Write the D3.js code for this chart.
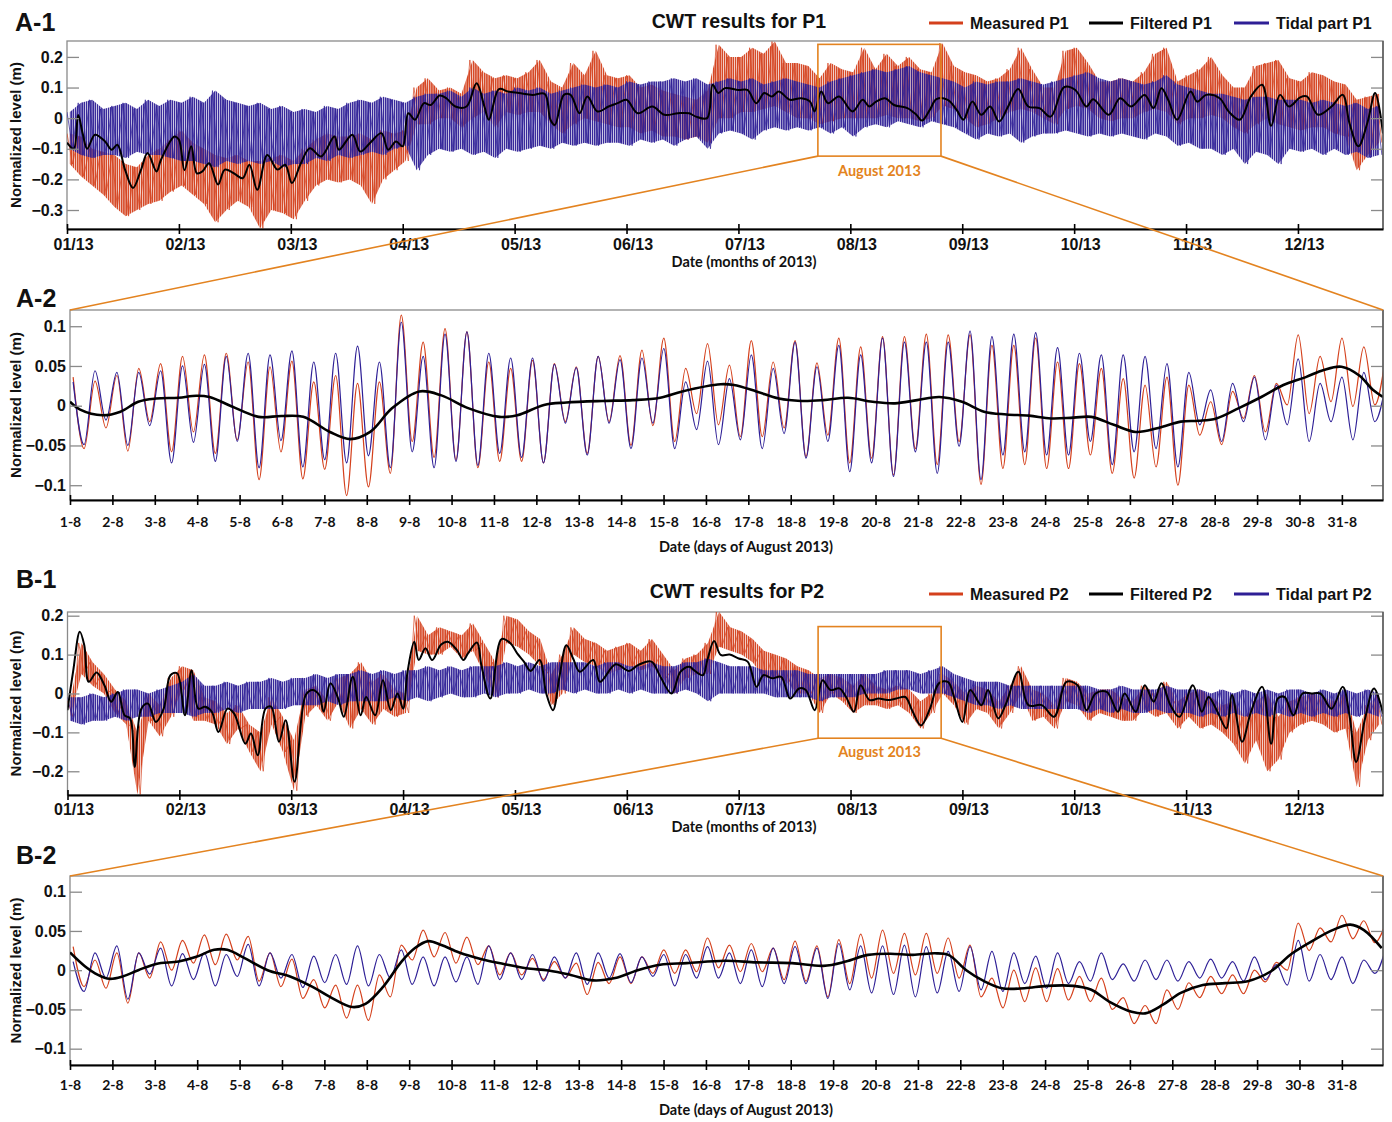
<!DOCTYPE html>
<html><head><meta charset="utf-8">
<script src="https://cdn.jsdelivr.net/npm/d3@7/dist/d3.min.js"></script>
<style>body{margin:0;background:#fff}svg{display:block}</style>
</head><body>
<svg id="c" width="1392" height="1122"></svg>
<script>
// ---------------- DATA ----------------
const monthLabels = ["01/13","02/13","03/13","04/13","05/13","06/13","07/13","08/13","09/13","10/13","11/13","12/13"];
const dayLabels = ["1-8","2-8","3-8","4-8","5-8","6-8","7-8","8-8","9-8","10-8","11-8","12-8","13-8","14-8","15-8","16-8","17-8","18-8","19-8","20-8","21-8","22-8","23-8","24-8","25-8","26-8","27-8","28-8","29-8","30-8","31-8"];
const seriesNamesP1 = ["Measured P1","Filtered P1","Tidal part P1"];
const seriesNamesP2 = ["Measured P2","Filtered P2","Tidal part P2"];
const yTicksYear = [0.2,0.1,0,-0.1,-0.2,-0.3];
const yTicksYearP2 = [0.2,0.1,0,-0.1,-0.2];
const yTicksAug = [0.1,0.05,0,-0.05,-0.1];

// yearly records: high / low extremes every 0.1 month (months since 1 Jan 2013)
const yearStepMonths = 0.1;
const p1MeasuredHigh = [
 -0.05,-0.06,-0.10,-0.11,-0.12,-0.15,-0.16,-0.12,-0.10,-0.07,
 -0.04,-0.08,-0.10,-0.12,-0.13,-0.12,-0.14,-0.14,-0.13,-0.12,
 -0.14,-0.10,-0.07,-0.05,-0.06,-0.06,-0.05,-0.07,-0.04,-0.05,
 -0.04,0.10,0.13,0.09,0.10,0.08,0.19,0.15,0.13,0.14,
 0.13,0.15,0.19,0.12,0.10,0.18,0.14,0.22,0.14,0.13,
 0.14,0.10,0.11,0.09,0.08,0.07,0.06,0.09,0.24,0.20,
 0.20,0.23,0.21,0.25,0.18,0.18,0.17,0.13,0.18,0.16,
 0.15,0.23,0.16,0.21,0.17,0.20,0.16,0.15,0.245,0.17,
 0.15,0.14,0.12,0.13,0.16,0.23,0.16,0.10,0.10,0.22,
 0.23,0.18,0.12,0.12,0.13,0.12,0.15,0.21,0.23,0.12,
 0.14,0.16,0.20,0.14,0.10,0.10,0.17,0.18,0.19,0.13,
 0.12,0.15,0.14,0.12,0.11,0.06,0.07,0.08];
const p1MeasuredLow = [
 -0.15,-0.19,-0.22,-0.25,-0.29,-0.32,-0.30,-0.28,-0.27,-0.24,
 -0.22,-0.25,-0.28,-0.34,-0.30,-0.27,-0.29,-0.36,-0.30,-0.31,
 -0.33,-0.27,-0.22,-0.20,-0.21,-0.20,-0.22,-0.28,-0.20,-0.17,
 -0.14,-0.02,-0.02,0.00,0.00,-0.03,0.00,0.02,-0.03,0.02,
 0.01,0.02,0.02,-0.02,-0.05,-0.02,0.00,-0.01,-0.02,-0.03,
 -0.03,-0.05,-0.04,-0.06,-0.06,-0.07,-0.06,-0.08,0.00,0.00,
 0.02,0.02,0.03,0.04,0.02,0.00,0.00,-0.02,-0.01,0.00,
 0.00,0.00,0.00,0.01,0.00,0.00,-0.01,0.00,0.04,0.03,
 0.00,-0.03,-0.02,0.00,0.02,0.03,0.02,0.00,-0.02,0.03,
 0.04,0.03,0.00,-0.01,0.00,0.00,0.02,0.03,0.02,-0.02,
 0.00,0.00,0.01,0.00,-0.03,-0.05,-0.02,0.00,-0.02,-0.03,
 -0.04,-0.03,-0.03,-0.05,-0.06,-0.17,-0.12,-0.08];
const p1TidalHigh = [
 0.02,0.05,0.06,0.03,0.04,0.05,0.03,0.06,0.04,0.06,
 0.05,0.07,0.05,0.09,0.06,0.05,0.04,0.05,0.03,0.04,
 0.02,0.03,0.02,0.04,0.03,0.05,0.06,0.05,0.07,0.06,
 0.05,0.07,0.08,0.08,0.09,0.07,0.10,0.08,0.09,0.08,
 0.10,0.09,0.10,0.08,0.09,0.10,0.11,0.10,0.11,0.10,
 0.12,0.11,0.12,0.12,0.13,0.12,0.13,0.11,0.12,0.13,
 0.12,0.13,0.11,0.12,0.13,0.12,0.11,0.10,0.12,0.13,
 0.14,0.15,0.16,0.15,0.16,0.17,0.15,0.14,0.13,0.12,
 0.10,0.12,0.11,0.12,0.12,0.13,0.12,0.11,0.12,0.13,
 0.14,0.15,0.13,0.12,0.13,0.12,0.11,0.12,0.14,0.11,
 0.10,0.09,0.08,0.08,0.07,0.06,0.07,0.07,0.06,0.06,
 0.06,0.05,0.06,0.05,0.04,0.05,0.03,0.04];
const p1TidalLow = [
 -0.10,-0.12,-0.13,-0.12,-0.12,-0.13,-0.11,-0.12,-0.12,-0.13,
 -0.14,-0.14,-0.15,-0.16,-0.14,-0.15,-0.14,-0.15,-0.14,-0.16,
 -0.15,-0.15,-0.13,-0.14,-0.12,-0.13,-0.12,-0.11,-0.12,-0.10,
 -0.09,-0.17,-0.12,-0.10,-0.11,-0.10,-0.12,-0.11,-0.13,-0.10,
 -0.11,-0.10,-0.09,-0.10,-0.08,-0.09,-0.08,-0.09,-0.08,-0.08,
 -0.09,-0.07,-0.08,-0.07,-0.09,-0.07,-0.06,-0.10,-0.05,-0.04,
 -0.05,-0.07,-0.04,-0.03,-0.04,-0.03,-0.04,-0.03,-0.05,-0.03,
 -0.06,-0.03,-0.02,-0.03,-0.01,-0.02,-0.03,-0.01,-0.02,-0.03,
 -0.05,-0.07,-0.05,-0.06,-0.05,-0.08,-0.06,-0.05,-0.05,-0.04,
 -0.05,-0.06,-0.05,-0.06,-0.05,-0.06,-0.07,-0.05,-0.06,-0.09,
 -0.08,-0.10,-0.10,-0.12,-0.10,-0.15,-0.11,-0.12,-0.15,-0.10,
 -0.11,-0.10,-0.12,-0.10,-0.12,-0.11,-0.13,-0.12];
const p1Filtered = [[0,-0.08],[0.06,-0.10],[0.1,0.01],[0.14,-0.05],[0.18,-0.10],[0.25,-0.054],[0.34,-0.076],[0.4,-0.103],[0.45,-0.087],[0.52,-0.17],[0.59,-0.228],[0.66,-0.17],[0.72,-0.114],[0.8,-0.174],[0.84,-0.136],[0.96,-0.06],[1.0,-0.07],[1.05,-0.17],[1.11,-0.092],[1.16,-0.18],[1.21,-0.174],[1.27,-0.147],[1.35,-0.217],[1.41,-0.168],[1.49,-0.18],[1.57,-0.196],[1.63,-0.152],[1.7,-0.234],[1.79,-0.12],[1.88,-0.168],[1.95,-0.152],[2.01,-0.212],[2.09,-0.147],[2.17,-0.098],[2.27,-0.125],[2.39,-0.06],[2.43,-0.103],[2.55,-0.054],[2.62,-0.109],[2.71,-0.08],[2.81,-0.049],[2.87,-0.103],[2.94,-0.076],[3.0,-0.092],[3.05,0.016],[3.11,-0.005],[3.19,0.049],[3.25,0.043],[3.33,0.074],[3.39,0.065],[3.47,0.038],[3.57,0.038],[3.66,0.114],[3.73,0.038],[3.77,-0.005],[3.86,0.095],[3.94,0.087],[4.04,0.082],[4.16,0.076],[4.27,0.079],[4.32,-0.005],[4.36,-0.022],[4.44,0.076],[4.5,0.076],[4.58,0.016],[4.65,0.071],[4.74,0.022],[4.84,0.038],[4.92,0.049],[5.0,0.06],[5.1,0.016],[5.23,0.038],[5.34,0.011],[5.46,0.016],[5.56,0.016],[5.62,0.005],[5.72,0.0],[5.77,0.109],[5.82,0.082],[5.88,0.098],[6.0,0.092],[6.08,0.092],[6.16,0.049],[6.23,0.082],[6.3,0.071],[6.36,0.087],[6.46,0.06],[6.56,0.065],[6.64,0.054],[6.68,0.022],[6.74,0.087],[6.8,0.049],[6.9,0.071],[7.02,0.022],[7.11,0.06],[7.17,0.038],[7.23,0.054],[7.31,0.065],[7.39,0.043],[7.51,0.033],[7.59,0.011],[7.64,-0.008],[7.71,0.027],[7.77,0.062],[7.87,0.06],[7.95,0.027],[8.01,-0.005],[8.09,0.054],[8.17,0.011],[8.25,0.038],[8.33,-0.011],[8.41,0.038],[8.5,0.095],[8.59,0.038],[8.69,0.033],[8.79,0.005],[8.91,0.101],[9.01,0.092],[9.11,0.038],[9.17,0.062],[9.31,0.011],[9.41,0.065],[9.51,0.038],[9.63,0.076],[9.71,0.033],[9.78,0.098],[9.84,0.06],[9.92,-0.005],[10.04,0.087],[10.1,0.054],[10.18,0.076],[10.3,0.065],[10.38,0.022],[10.48,-0.005],[10.58,0.071],[10.68,0.109],[10.76,-0.025],[10.84,0.076],[10.92,0.038],[11.02,0.068],[11.08,0.071],[11.18,0.011],[11.3,0.038],[11.4,0.076],[11.46,-0.016],[11.54,-0.092],[11.62,-0.016],[11.69,0.082],[11.76,-0.05]];

const p2MeasuredHigh = [
 -0.02,0.13,0.08,0.05,0.01,-0.02,-0.10,0.00,-0.03,0.04,
 0.07,0.06,-0.01,-0.02,-0.05,-0.03,-0.08,-0.10,-0.01,-0.06,
 -0.12,0.01,0.02,-0.02,0.04,0.05,0.08,0.03,0.05,0.01,
 0.00,0.20,0.15,0.17,0.16,0.15,0.18,0.13,0.08,0.20,
 0.19,0.16,0.14,0.05,0.10,0.17,0.14,0.13,0.11,0.12,
 0.13,0.11,0.14,0.10,0.06,0.09,0.10,0.13,0.21,0.17,
 0.16,0.14,0.11,0.10,0.09,0.07,0.06,0.04,0.05,0.04,
 0.02,0.05,0.02,0.01,0.02,0.01,-0.02,0.00,0.05,0.03,
 0.00,0.02,0.01,-0.02,0.02,0.07,0.01,0.00,-0.03,0.04,
 0.03,0.00,0.01,0.01,-0.01,-0.02,0.02,0.00,0.03,-0.02,
 0.00,0.01,-0.01,-0.03,-0.02,-0.06,-0.02,0.00,-0.06,-0.02,
 -0.01,0.00,-0.01,-0.02,0.00,-0.10,-0.03,0.00];
const p2MeasuredLow = [
 -0.06,0.05,0.02,0.00,-0.05,-0.08,-0.26,-0.07,-0.11,-0.06,
 0.01,-0.07,-0.07,-0.08,-0.13,-0.09,-0.15,-0.20,-0.08,-0.15,
 -0.25,-0.06,-0.03,-0.07,-0.02,-0.09,-0.04,-0.08,-0.04,-0.06,
 -0.05,0.11,0.10,0.10,0.12,0.09,0.11,0.05,-0.01,0.13,
 0.12,0.10,0.07,-0.03,0.00,0.10,0.08,0.07,0.05,0.06,
 0.07,0.06,0.07,0.04,0.00,0.04,0.05,0.05,0.12,0.11,
 0.10,0.08,0.04,0.04,0.03,0.00,0.00,-0.05,0.00,-0.02,
 -0.05,-0.03,-0.03,-0.04,-0.03,-0.05,-0.09,-0.05,0.00,-0.03,
 -0.08,-0.04,-0.05,-0.09,-0.05,0.00,-0.07,-0.06,-0.09,-0.02,
 -0.03,-0.07,-0.05,-0.06,-0.07,-0.07,-0.04,-0.06,-0.05,-0.09,
 -0.06,-0.09,-0.08,-0.10,-0.13,-0.18,-0.12,-0.20,-0.17,-0.10,
 -0.08,-0.07,-0.08,-0.10,-0.09,-0.24,-0.12,-0.08];
const p2TidalHigh = [
 -0.01,-0.01,0.00,-0.01,0.00,0.01,0.01,0.00,0.01,0.02,
 0.03,0.05,0.02,0.02,0.03,0.02,0.03,0.03,0.04,0.03,
 0.04,0.04,0.05,0.04,0.05,0.05,0.06,0.05,0.06,0.05,
 0.06,0.06,0.07,0.06,0.07,0.06,0.07,0.07,0.07,0.08,
 0.07,0.08,0.07,0.08,0.08,0.08,0.08,0.07,0.08,0.08,
 0.07,0.07,0.08,0.07,0.07,0.08,0.08,0.09,0.08,0.07,
 0.07,0.07,0.06,0.06,0.06,0.06,0.05,0.05,0.05,0.05,
 0.05,0.05,0.05,0.06,0.06,0.06,0.05,0.06,0.07,0.05,
 0.04,0.03,0.03,0.03,0.02,0.02,0.02,0.02,0.02,0.02,
 0.02,0.02,0.01,0.01,0.02,0.01,0.01,0.01,0.02,0.01,
 0.01,0.01,0.00,0.01,0.00,0.01,0.00,0.01,0.00,0.01,
 0.01,0.00,0.01,0.00,0.01,0.00,0.01,0.00];
const p2TidalLow = [
 -0.07,-0.08,-0.07,-0.07,-0.06,-0.07,-0.06,-0.06,-0.05,-0.05,
 -0.05,-0.06,-0.05,-0.05,-0.04,-0.05,-0.04,-0.04,-0.04,-0.04,
 -0.03,-0.03,-0.03,-0.02,-0.03,-0.02,-0.02,-0.02,-0.02,-0.01,
 -0.02,-0.01,-0.02,-0.01,0.00,-0.01,-0.01,0.00,-0.01,0.00,
 0.00,0.01,0.00,0.00,0.01,0.00,0.01,0.00,0.00,0.01,
 0.00,0.01,0.00,0.00,0.00,0.01,0.00,-0.02,0.00,0.00,
 0.00,0.00,0.00,-0.01,-0.01,-0.01,-0.01,-0.02,-0.01,-0.01,
 -0.01,0.00,0.00,0.00,0.01,0.01,0.00,0.00,0.00,-0.01,
 -0.02,-0.03,-0.03,-0.04,-0.03,-0.04,-0.04,-0.04,-0.04,-0.04,
 -0.04,-0.05,-0.04,-0.05,-0.04,-0.05,-0.05,-0.04,-0.05,-0.05,
 -0.05,-0.06,-0.05,-0.06,-0.05,-0.06,-0.05,-0.06,-0.05,-0.06,
 -0.05,-0.06,-0.05,-0.06,-0.05,-0.06,-0.05,-0.06];
const p2Filtered = [[0,-0.043],[0.05,0.056],[0.11,0.159],[0.15,0.124],[0.19,0.03],[0.26,0.054],[0.33,0.021],[0.39,-0.021],[0.45,0.004],[0.51,-0.056],[0.56,-0.064],[0.6,-0.189],[0.66,-0.039],[0.72,-0.026],[0.79,-0.073],[0.86,-0.039],[0.92,0.047],[0.98,0.052],[1.05,-0.056],[1.11,0.06],[1.17,-0.039],[1.23,-0.034],[1.29,-0.047],[1.35,-0.099],[1.43,-0.039],[1.49,-0.052],[1.59,-0.129],[1.64,-0.103],[1.7,-0.159],[1.77,-0.039],[1.82,-0.034],[1.89,-0.124],[1.95,-0.069],[2.03,-0.227],[2.13,-0.004],[2.19,0.009],[2.25,-0.004],[2.29,-0.047],[2.35,0.026],[2.42,-0.013],[2.47,-0.06],[2.55,0.043],[2.62,-0.056],[2.67,-0.009],[2.75,-0.056],[2.82,0.034],[2.89,-0.043],[2.95,0.0],[3.0,-0.039],[3.04,0.056],[3.1,0.133],[3.14,0.086],[3.2,0.116],[3.26,0.086],[3.34,0.126],[3.4,0.133],[3.48,0.112],[3.54,0.086],[3.58,0.103],[3.66,0.131],[3.7,0.073],[3.78,-0.013],[3.88,0.14],[3.96,0.129],[4.02,0.103],[4.08,0.082],[4.14,0.058],[4.22,0.086],[4.28,0.0],[4.34,-0.043],[4.4,0.047],[4.46,0.124],[4.52,0.09],[4.58,0.056],[4.7,0.086],[4.76,0.03],[4.9,0.075],[5.02,0.058],[5.1,0.073],[5.22,0.082],[5.3,0.043],[5.4,0.0],[5.48,0.056],[5.56,0.069],[5.6,0.06],[5.68,0.047],[5.72,0.086],[5.78,0.135],[5.84,0.099],[5.92,0.1],[6.0,0.09],[6.08,0.082],[6.16,0.017],[6.22,0.047],[6.3,0.039],[6.38,0.043],[6.46,-0.013],[6.54,0.013],[6.6,0.009],[6.68,-0.043],[6.75,0.034],[6.82,0.009],[6.9,0.013],[6.96,-0.009],[7.03,-0.047],[7.09,0.021],[7.17,-0.017],[7.25,-0.013],[7.33,-0.017],[7.41,-0.013],[7.49,-0.009],[7.55,-0.043],[7.63,-0.082],[7.71,-0.039],[7.79,0.026],[7.87,0.03],[7.93,-0.013],[8.0,-0.073],[8.07,0.009],[8.17,-0.03],[8.23,0.009],[8.32,-0.064],[8.39,-0.026],[8.5,0.056],[8.59,-0.03],[8.71,-0.03],[8.82,-0.06],[8.93,0.03],[9.03,0.021],[9.11,-0.043],[9.19,0.0],[9.29,0.004],[9.39,-0.047],[9.45,0.0],[9.55,-0.047],[9.63,0.021],[9.71,-0.021],[9.78,0.026],[9.86,-0.03],[9.94,-0.06],[10.06,0.021],[10.14,-0.047],[10.2,-0.009],[10.28,-0.047],[10.36,-0.09],[10.41,-0.004],[10.5,-0.124],[10.58,-0.047],[10.68,0.017],[10.76,-0.129],[10.82,-0.013],[10.88,-0.009],[10.96,-0.056],[11.04,0.0],[11.12,0.0],[11.2,0.0],[11.3,-0.039],[11.4,0.017],[11.46,-0.056],[11.52,-0.176],[11.6,-0.064],[11.68,0.013],[11.76,-0.052]];

// August records: alternating high/low water values, one every half tidal cycle (day of August)
const tideStartDay = 1.074;
const tideHalfPeriodDays = 0.258;
const p1AugMeasured = [
 0.036,-0.054,0.031,-0.028,0.038,-0.057,0.047,-0.020,0.053,-0.058,
 0.062,-0.033,0.064,-0.060,0.066,-0.043,0.055,-0.093,0.049,-0.058,
 0.056,-0.092,0.030,-0.080,0.038,-0.113,0.028,-0.102,0.030,-0.085,
 0.114,-0.045,0.080,-0.065,0.097,-0.068,0.093,-0.078,0.055,-0.070,
 0.047,-0.070,0.057,-0.072,0.053,-0.020,0.049,-0.060,0.062,-0.020,
 0.063,-0.050,0.070,-0.025,0.085,-0.045,0.047,-0.010,0.078,-0.024,
 0.051,-0.039,0.082,-0.039,0.055,-0.028,0.082,-0.064,0.054,-0.037,
 0.085,-0.072,0.074,-0.066,0.087,-0.087,0.087,-0.054,0.090,-0.074,
 0.089,-0.045,0.089,-0.099,0.076,-0.079,0.076,-0.074,0.085,-0.079,
 0.055,-0.079,0.053,-0.062,0.047,-0.085,0.034,-0.091,0.026,-0.077,
 0.036,-0.100,0.026,-0.037,0.005,-0.049,0.018,-0.016,0.038,-0.033,
 0.028,0.001,0.089,-0.010,0.062,0.005,0.085,-0.001,0.074,0.001,
 0.062];
const p1AugTidal = [
 0.030,-0.049,0.044,-0.018,0.042,-0.050,0.042,-0.025,0.044,-0.072,
 0.050,-0.046,0.052,-0.070,0.062,-0.045,0.066,-0.078,0.064,-0.044,
 0.069,-0.077,0.055,-0.068,0.066,-0.072,0.075,-0.063,0.055,-0.078,
 0.105,-0.058,0.062,-0.078,0.090,-0.070,0.093,-0.075,0.066,-0.060,
 0.060,-0.065,0.060,-0.072,0.052,-0.022,0.048,-0.062,0.062,-0.022,
 0.058,-0.054,0.060,-0.022,0.072,-0.054,0.030,-0.030,0.056,-0.049,
 0.034,-0.043,0.064,-0.054,0.047,-0.035,0.080,-0.066,0.049,-0.045,
 0.076,-0.083,0.064,-0.072,0.085,-0.089,0.080,-0.058,0.080,-0.085,
 0.080,-0.051,0.094,-0.093,0.087,-0.062,0.090,-0.058,0.092,-0.062,
 0.073,-0.062,0.066,-0.045,0.064,-0.074,0.064,-0.058,0.062,-0.054,
 0.053,-0.077,0.042,-0.024,0.020,-0.045,0.028,-0.020,0.036,-0.043,
 0.026,-0.024,0.059,-0.045,0.028,-0.020,0.036,-0.043,0.042,-0.020,
 0.026];
const p1AugFiltered = [[1.0,0.005],[1.24,-0.005],[1.77,-0.012],[2.19,-0.0075],[2.61,0.005],[3.03,0.009],[3.56,0.010],[3.98,0.0125],[4.29,0.011],[4.82,-0.001],[5.45,-0.014],[5.98,-0.013],[6.5,-0.014],[7.13,-0.033],[7.61,-0.042],[8.08,-0.033],[8.6,-0.003],[9.24,0.018],[9.76,0.013],[10.39,-0.003],[11.13,-0.014],[11.55,-0.012],[12.18,0.001],[12.71,0.004],[13.55,0.006],[14.28,0.007],[14.92,0.01],[15.44,0.018],[16.35,0.027],[16.66,0.026],[17.19,0.018],[17.72,0.009],[18.24,0.006],[18.77,0.007],[19.35,0.01],[19.93,0.005],[20.46,0.003],[20.98,0.007],[21.51,0.011],[22.04,0.005],[22.56,-0.0075],[23.09,-0.011],[23.62,-0.0125],[24.14,-0.016],[24.67,-0.015],[25.09,-0.014],[25.62,-0.024],[26.14,-0.033],[26.67,-0.028],[27.2,-0.02],[27.62,-0.019],[28.04,-0.016],[28.57,-0.003],[29.1,0.011],[29.62,0.026],[30.15,0.036],[30.57,0.045],[30.99,0.049],[31.41,0.038],[31.73,0.02],[31.97,0.011]];

const p2AugMeasured = [
 0.030,-0.021,0.013,-0.023,0.022,-0.042,0.022,-0.010,0.036,0.000,
 0.038,0.009,0.045,0.007,0.046,0.013,0.043,-0.014,0.022,-0.021,
 0.014,-0.036,-0.012,-0.048,-0.019,-0.061,-0.019,-0.064,-0.006,-0.034,
 0.032,0.013,0.051,0.017,0.048,0.009,0.042,0.007,0.031,-0.006,
 0.022,-0.006,0.015,-0.012,0.011,-0.010,0.009,-0.031,0.010,-0.017,
 0.017,-0.017,0.017,-0.004,0.026,-0.004,0.026,-0.002,0.041,0.003,
 0.032,-0.002,0.034,-0.002,0.028,-0.012,0.037,-0.014,0.031,-0.034,
 0.039,-0.017,0.046,-0.010,0.051,-0.004,0.047,-0.006,0.047,-0.004,
 0.041,-0.010,0.032,-0.034,-0.010,-0.048,0.000,-0.040,0.003,-0.040,
 0.002,-0.038,-0.008,-0.040,-0.010,-0.050,-0.035,-0.068,-0.045,-0.068,
 -0.025,-0.050,-0.016,-0.035,-0.008,-0.030,-0.006,-0.030,0.000,-0.015,
 0.010,0.000,0.060,0.025,0.054,0.036,0.070,0.040,0.063,0.035,
 0.060];
const p2AugTidal = [
 0.011,-0.027,0.022,-0.010,0.031,-0.037,0.022,-0.005,0.028,-0.020,
 0.021,-0.012,0.022,-0.020,0.020,-0.008,0.033,-0.020,0.022,-0.010,
 0.020,-0.022,0.018,-0.016,0.020,-0.018,0.031,-0.020,0.020,-0.010,
 0.026,-0.018,0.017,-0.020,0.017,-0.015,0.017,-0.018,0.031,-0.012,
 0.022,-0.012,0.020,-0.014,0.017,-0.010,0.022,-0.018,0.022,-0.010,
 0.021,-0.016,0.017,-0.008,0.020,-0.020,0.020,-0.010,0.030,-0.010,
 0.022,-0.017,0.026,-0.021,0.028,-0.017,0.030,-0.017,0.028,-0.036,
 0.034,-0.025,0.031,-0.029,0.031,-0.031,0.032,-0.034,0.030,-0.029,
 0.024,-0.027,0.030,-0.025,0.024,-0.027,0.022,-0.017,0.018,-0.023,
 0.022,-0.017,0.011,-0.014,0.022,-0.012,0.008,-0.014,0.013,-0.012,
 0.013,-0.014,0.011,-0.010,0.014,-0.010,0.011,-0.014,0.017,-0.012,
 0.007,-0.019,0.038,-0.014,0.020,-0.012,0.017,-0.017,0.013,-0.004,
 0.028];
const p2AugFiltered = [[1.0,0.0225],[1.35,0.005],[1.66,-0.006],[1.93,-0.011],[2.24,-0.008],[2.61,0.0],[3.03,0.008],[3.56,0.011],[3.98,0.017],[4.4,0.026],[4.71,0.026],[5.13,0.015],[5.66,0.0],[6.19,-0.008],[6.71,-0.021],[7.13,-0.034],[7.66,-0.047],[7.97,-0.043],[8.39,-0.021],[8.82,0.011],[9.13,0.028],[9.45,0.037],[9.76,0.032],[10.18,0.0225],[10.71,0.014],[11.23,0.008],[11.76,0.0025],[12.29,-0.0004],[12.81,-0.006],[13.34,-0.013],[13.86,-0.01],[14.39,0.0],[14.92,0.007],[15.55,0.009],[16.45,0.012],[17.19,0.01],[18.03,0.009],[18.77,0.0055],[19.3,0.011],[19.82,0.0195],[20.35,0.021],[20.88,0.0195],[21.4,0.0215],[21.72,0.0195],[22.14,0.0],[22.56,-0.014],[22.98,-0.023],[23.51,-0.023],[24.04,-0.02],[24.67,-0.02],[25.09,-0.025],[25.51,-0.04],[26.04,-0.053],[26.36,-0.055],[26.78,-0.044],[27.2,-0.029],[27.72,-0.019],[28.25,-0.0165],[28.78,-0.014],[29.31,-0.002],[29.83,0.0215],[30.36,0.039],[30.78,0.051],[31.2,0.058],[31.52,0.051],[31.94,0.028]];

// zoom window (months) and its level extent in each yearly panel
const augustBoxMonths = [6.71, 7.81];
const augustBoxP1 = [-0.124, 0.241];
const augustBoxP2 = [-0.115, 0.172];

// ---------------- DRAWING ----------------
const RED = "#D4401C", BLUE = "#2E1F96", BLACK = "#000", ORANGE = "#E38320", FRAME = "#8a8a8a";
const TICKFONT = "'Liberation Sans', Arial, Helvetica, sans-serif";
const CALFONT = "Lato, 'Open Sans', sans-serif";
const svg = d3.select("#c");
const defs = svg.append("defs");

// vertical hatching used to render the dense tidal oscillation band
[["hatchRed", RED], ["hatchBlue", BLUE]].forEach(([id, col]) => {
  const pat = defs.append("pattern").attr("id", id).attr("patternUnits", "userSpaceOnUse")
    .attr("width", 2.2).attr("height", 20);
  pat.append("rect").attr("x", 0).attr("y", 0).attr("width", 1.6).attr("height", 20).attr("fill", col);
});

function makePanel(id, L, xDomain, yDomain, yTicks, fmt) {
  const x = d3.scaleLinear().domain(xDomain).range([L.left, L.right]);
  const y = d3.scaleLinear().domain(yDomain).range([L.bottom, L.top]);
  defs.append("clipPath").attr("id", "clip" + id).append("rect")
    .attr("x", L.left).attr("y", L.top).attr("width", L.right - L.left).attr("height", L.bottom - L.top);
  const g = svg.append("g");
  g.append("rect").attr("x", L.left).attr("y", L.top).attr("width", L.right - L.left).attr("height", L.bottom - L.top)
    .attr("fill", "none").attr("stroke", FRAME).attr("stroke-width", 1.3);
  const data = g.append("g").attr("clip-path", `url(#clip${id})`);
  const la = g.append("g").attr("transform", `translate(${L.left},0)`)
    .call(d3.axisLeft(y).tickValues(yTicks).tickFormat(fmt).tickSize(-12).tickSizeOuter(0).tickPadding(4));
  la.select(".domain").remove();
  la.selectAll(".tick line").attr("stroke", FRAME).attr("stroke-width", 1.3);
  la.selectAll(".tick text").attr("font-family", TICKFONT).attr("font-size", 16).attr("font-weight", "bold").attr("fill", "#111");
  const ra = g.append("g").attr("transform", `translate(${L.right},0)`)
    .call(d3.axisRight(y).tickValues(yTicks).tickFormat("").tickSize(-12).tickSizeOuter(0));
  ra.select(".domain").remove();
  ra.selectAll(".tick line").attr("stroke", FRAME).attr("stroke-width", 1.3);
  g.append("line").attr("x1", L.right).attr("x2", L.right).attr("y1", L.top).attr("y2", L.bottom)
    .attr("stroke", "#555").attr("stroke-width", 1.4);
  return { id, L, x, y, g, data };
}

function bottomAxis(p, tickVals, labels, baseline, font, size, dx) {
  const ax = svg.append("g").attr("transform", `translate(0,${p.L.bottom})`)
    .call(d3.axisBottom(p.x).tickValues(tickVals).tickFormat((d, i) => labels[i]).tickSize(5).tickSizeOuter(0));
  ax.select(".domain").attr("stroke", "#000").attr("stroke-width", 2.2);
  ax.selectAll(".tick line").attr("stroke", "#000").attr("stroke-width", 1.6);
  ax.selectAll(".tick").append("line").attr("y2", -5).attr("stroke", "#000").attr("stroke-width", 1.6);
  ax.selectAll(".tick text").attr("y", baseline - p.L.bottom).attr("dy", 0).attr("dx", dx)
    .attr("font-family", font).attr("font-size", size).attr("font-weight", "bold").attr("fill", "#111");
}

function drawBand(p, hi, lo, step, color, hatch) {
  const area = hi.map((h, i) => [i * step + step / 4, lo[i], h]);
  p.data.append("path").datum(area)
    .attr("d", d3.area().curve(d3.curveLinear).x(d => p.x(d[0])).y0(d => p.y(d[1])).y1(d => p.y(d[2])))
    .attr("fill", `url(#${hatch})`).attr("fill-opacity", 0.95);
  const zz = [];
  hi.forEach((h, i) => { zz.push([i * step, h]); zz.push([i * step + step / 2, lo[i]]); });
  p.data.append("path").datum(zz)
    .attr("d", d3.line().x(d => p.x(d[0])).y(d => p.y(d[1])))
    .attr("fill", "none").attr("stroke", color).attr("stroke-width", 0.7).attr("stroke-linejoin", "miter");
}

function drawTide(p, vals, color, w) {
  const pts = vals.map((v, j) => [tideStartDay + j * tideHalfPeriodDays, v]);
  p.data.append("path").datum(pts)
    .attr("d", d3.line().curve(d3.curveMonotoneX).x(d => p.x(d[0])).y(d => p.y(d[1])))
    .attr("fill", "none").attr("stroke", color).attr("stroke-width", w);
}

function drawFiltered(p, pairs, w) {
  p.data.append("path").datum(pairs)
    .attr("d", d3.line().curve(d3.curveCatmullRom.alpha(0.5)).x(d => p.x(d[0])).y(d => p.y(d[1])))
    .attr("fill", "none").attr("stroke", BLACK).attr("stroke-width", w).attr("stroke-linejoin", "round");
}

function text(x, y, s, opts) {
  return svg.append("text").attr("x", x).attr("y", y).text(s)
    .attr("font-family", opts.font || TICKFONT).attr("font-size", opts.size || 16)
    .attr("font-weight", "bold").attr("fill", opts.fill || "#111")
    .attr("text-anchor", opts.anchor || "start");
}

function legend(y, names) {
  const items = [[929, 963, 970, RED], [1089, 1123, 1130, BLACK], [1234, 1269, 1276, BLUE]];
  items.forEach((it, i) => {
    svg.append("line").attr("x1", it[0]).attr("x2", it[1]).attr("y1", y).attr("y2", y)
      .attr("stroke", it[3]).attr("stroke-width", 3);
    text(it[2], y + 6, names[i], { size: 16 });
  });
}

const fmtYear = d => d === 0 ? "0" : (d < 0 ? "\u2212" : "") + d3.format(".1f")(Math.abs(d));
const fmtAug = d => d === 0 ? "0" : (d < 0 ? "\u2212" : "") + String(+Math.abs(d).toFixed(2));

const monthTickVals = monthLabels.map((_, i) => i);
const dayTickVals = dayLabels.map((_, i) => i + 1);

// ---- Panel A-1
const A1 = makePanel("A1", { left: 67, right: 1383, top: 41, bottom: 229 }, [0, 11.76], [-0.362, 0.252], yTicksYear, fmtYear);
drawBand(A1, p1MeasuredHigh, p1MeasuredLow, yearStepMonths, RED, "hatchRed");
drawBand(A1, p1TidalHigh, p1TidalLow, yearStepMonths, BLUE, "hatchBlue");
drawFiltered(A1, p1Filtered, 2);
bottomAxis(A1, monthTickVals, monthLabels, 250, TICKFONT, 16, 6);

// ---- Panel A-2
const A2 = makePanel("A2", { left: 70, right: 1383, top: 310, bottom: 500 }, [1, 31.97], [-0.1186, 0.1204], yTicksAug, fmtAug);
drawTide(A2, p1AugMeasured, RED, 1.2);
drawTide(A2, p1AugTidal, BLUE, 1.2);
drawFiltered(A2, p1AugFiltered, 2.6);
bottomAxis(A2, dayTickVals, dayLabels, 527, CALFONT, 14, 0);

// ---- Panel B-1
const B1 = makePanel("B1", { left: 67.5, right: 1383, top: 612, bottom: 795 }, [0, 11.76], [-0.261, 0.2095], yTicksYearP2, fmtYear);
drawBand(B1, p2MeasuredHigh, p2MeasuredLow, yearStepMonths, RED, "hatchRed");
drawBand(B1, p2TidalHigh, p2TidalLow, yearStepMonths, BLUE, "hatchBlue");
drawFiltered(B1, p2Filtered, 2);
bottomAxis(B1, monthTickVals, monthLabels, 815, TICKFONT, 16, 6);

// ---- Panel B-2
const B2 = makePanel("B2", { left: 70, right: 1383, top: 876, bottom: 1065 }, [1, 31.97], [-0.1208, 0.12], yTicksAug, fmtAug);
drawTide(B2, p2AugMeasured, RED, 1.2);
drawTide(B2, p2AugTidal, BLUE, 1.2);
drawFiltered(B2, p2AugFiltered, 2.6);
bottomAxis(B2, dayTickVals, dayLabels, 1090, CALFONT, 14, 0);

// ---- Texts
text(15, 31, "A-1", { size: 25 });
text(16, 307, "A-2", { size: 25 });
text(16, 588, "B-1", { size: 25 });
text(16, 864, "B-2", { size: 25 });
text(739, 28, "CWT results for P1", { size: 19.5, anchor: "middle" });
text(737, 598, "CWT results for P2", { size: 19.5, anchor: "middle" });
legend(23, seriesNamesP1);
legend(594, seriesNamesP2);
[A1, A2, B1, B2].forEach(p => {
  const cy = (p.L.top + p.L.bottom) / 2;
  svg.append("text").attr("transform", `translate(15,${cy}) rotate(-90)`)
    .attr("text-anchor", "middle").attr("dominant-baseline", "central")
    .attr("font-family", TICKFONT).attr("font-size", 15).attr("font-weight", "bold").attr("fill", "#111")
    .text("Normalized level (m)");
});
text(744, 267, "Date (months of 2013)", { font: CALFONT, size: 14.5, anchor: "middle" });
text(744, 832, "Date (months of 2013)", { font: CALFONT, size: 14.5, anchor: "middle" });
text(746, 552, "Date (days of August 2013)", { font: CALFONT, size: 14.5, anchor: "middle" });
text(746, 1115, "Date (days of August 2013)", { font: CALFONT, size: 14.5, anchor: "middle" });

// ---- Zoom boxes and connectors
function zoomBox(p, q, levels, labelBaseline) {
  const x0 = p.x(augustBoxMonths[0]), x1 = p.x(augustBoxMonths[1]);
  const yTop = p.y(levels[1]), yBot = p.y(levels[0]);
  svg.append("rect").attr("x", x0).attr("y", yTop).attr("width", x1 - x0).attr("height", yBot - yTop)
    .attr("fill", "none").attr("stroke", ORANGE).attr("stroke-width", 1.6);
  svg.append("line").attr("x1", x0).attr("y1", yBot).attr("x2", q.L.left).attr("y2", q.L.top)
    .attr("stroke", ORANGE).attr("stroke-width", 1.6);
  svg.append("line").attr("x1", x1).attr("y1", yBot).attr("x2", q.L.right).attr("y2", q.L.top)
    .attr("stroke", ORANGE).attr("stroke-width", 1.6);
  text((x0 + x1) / 2, labelBaseline, "August 2013", { font: CALFONT, size: 14.5, anchor: "middle", fill: ORANGE });
}
zoomBox(A1, A2, augustBoxP1, 176);
zoomBox(B1, B2, augustBoxP2, 757);
</script>
</body></html>
